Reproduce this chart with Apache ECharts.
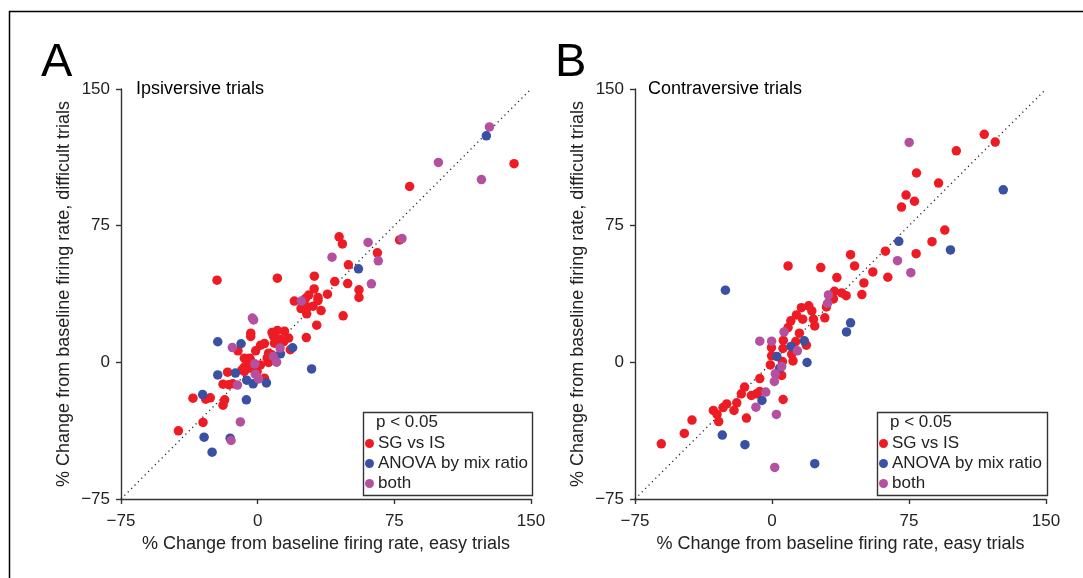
<!DOCTYPE html>
<html><head><meta charset="utf-8">
<script src="https://cdn.jsdelivr.net/npm/echarts@6/dist/echarts.min.js"></script>
<style>html,body{margin:0;padding:0;background:#fff}#c{width:1083px;height:578px}</style>
</head><body><div id="c"></div>
<script>
// ---- data ----
const seriesNames = ["SG vs IS", "ANOVA by mix ratio", "both"];
const axisTicks = [-75, 0, 75, 150];
const panelTitles = ["Ipsiversive trials", "Contraversive trials"];
const panelLetters = ["A", "B"];
const xAxisName = "% Change from baseline firing rate, easy trials";
const yAxisName = "% Change from baseline firing rate, difficult trials";
const legendHeader = "p < 0.05";

const ipsiSG = [[140.7,109],[83.4,96.5],[44.7,68.9],[46.5,65.0],[77.9,67.2],[65.7,60.1],[49.8,53.5],[-22.3,45.1],[10.8,46.2],[31.1,47.3],[42.3,44.3],[49.4,43.2],[55.6,39.8],[55.6,35.6],[31.0,40.3],[28.0,36.9],[38.3,37.4],[33.1,35.6],[33.1,33.9],[20.1,33.6],[26.2,35.0],[23.8,29.5],[27.4,30.3],[30.4,30.8],[34.8,28.4],[26.9,26.6],[46.9,25.5],[32.4,20.4],[-3.8,16.0],[-3.8,14.2],[7.9,16.4],[10.8,17.5],[14.7,17.1],[8.6,14.5],[12.5,12.7],[17.0,13.3],[26.7,13.6],[-10.8,6.3],[1.6,9.4],[3.7,10.3],[-1.1,6.3],[9.2,10.5],[17.9,6.9],[-7.3,2.3],[-4.4,2.3],[5.2,2.3],[14.3,11.4],[7.8,4.1],[6.0,5.0],[6.0,-0.1],[1.5,-1.4],[-6.2,1.4],[-4.0,1.4],[-7.3,-2.6],[-4.0,-3.2],[-7.3,-5.0],[-0.3,-5.0],[3.7,-8.7],[-16.5,-5.4],[-19.0,-12.0],[-15.9,-12.3],[-13.7,-11.8],[-35.5,-19.7],[-28.5,-20.2],[-26.0,-19.5],[-18.1,-20.6],[-19.0,-23.5],[-30.0,-33.0],[-43.5,-37.6],[-8.6,-4.1]];
const ipsiANOVA = [[125.5,124.3],[55.3,51.3],[-21.9,11.3],[-9.1,10.2],[19.2,8.0],[12.5,4.7],[29.6,-3.6],[-21.9,-6.9],[-12.2,-5.9],[-6.0,-9.8],[-2.5,-11.8],[4.8,-11.3],[-30.2,-17.7],[-6.2,-20.6],[-29.4,-41.1],[-15.1,-41.6],[-25.0,-49.3]];
const ipsiBoth = [[127.2,129.2],[99.2,109.7],[122.8,100.3],[60.6,65.8],[79.2,67.9],[66.2,55.7],[40.8,57.7],[62.4,43.1],[24.0,33.6],[-2.9,24.3],[-2.2,23.3],[-13.9,8.1],[12.3,7.8],[8.6,3.2],[10.4,0.1],[-1.6,-0.8],[-1.3,-6.5],[0.5,-9.1],[-11.1,-12.5],[-9.5,-32.7],[-14.6,-42.9]];

const contraSG = [[116.2,125.1],[122.2,120.9],[100.9,116.1],[79.1,103.9],[91.2,98.4],[73.4,91.8],[78.0,88.4],[70.9,85.2],[94.6,72.6],[87.6,66.2],[62.1,61.0],[78.9,59.6],[63.4,46.7],[43.0,59.1],[45.2,52.9],[55.2,49.6],[50.3,43.6],[49.2,37.2],[8.8,52.9],[26.7,52.0],[35.5,46.5],[34.2,39.0],[38.2,38.1],[40.6,36.6],[33.6,34.8],[29.8,30.4],[16.1,30.0],[20.1,31.0],[21.8,28.2],[13.4,26.0],[10.3,22.8],[16.8,23.7],[22.7,23.7],[28.9,24.4],[23.4,20.0],[8.8,19.1],[15.0,16.0],[-0.3,8.1],[6.2,12.0],[13.0,11.4],[18.8,9.4],[6.0,7.6],[10.8,4.5],[-0.2,3.6],[11.5,0.8],[5.7,0.4],[-0.9,-1.4],[5.3,-7.2],[-6.7,-8.9],[-15.0,-13.6],[-16.8,-17.3],[-11.3,-18.2],[-8.5,-17.3],[-6.7,-16.0],[6.1,-20.4],[-19.3,-22.2],[-24.8,-22.8],[-26.8,-24.8],[-20.8,-26.4],[-32.1,-26.4],[-30.1,-28.6],[-29.2,-32.5],[-14.0,-30.6],[-43.8,-31.7],[-48.0,-39.0],[-60.6,-44.7]];
const contraANOVA = [[126.6,94.7],[97.7,61.7],[69.4,66.4],[-25.5,39.6],[43.0,21.7],[40.8,16.7],[17.7,11.8],[10.4,8.7],[2.7,3.2],[19.2,-0.1],[4.2,-3.2],[-5.5,-20.9],[-27.2,-39.9],[-14.8,-45.2],[23.4,-55.6]];
const contraBoth = [[75.1,120.7],[68.7,55.8],[76.0,49.2],[30.9,37.0],[30.4,32.4],[6.6,16.7],[-6.7,11.6],[-0.2,11.6],[13.9,6.3],[5.3,-2.3],[1.8,-6.3],[1.3,-10.5],[-3.4,-16.3],[-8.8,-24.6],[2.4,-28.6],[1.5,-57.7]];
const identityLine = [[axisTicks[0], axisTicks[0]], [axisTicks[3], axisTicks[3]]];

// ---- chart ----
const colors = ["#ED1C24", "#3A50A2", "#B4509F"];
const FONT = "Liberation Sans, Arial, Helvetica, sans-serif";
const grids = [
  {left: 121, top: 89, width: 410, height: 410},
  {left: 635, top: 89, width: 411, height: 410}
];
const fmt = v => String(v).replace('-', '\u2212');
function axisBase(i, isX) {
  return {
    type: 'value', gridIndex: i, min: axisTicks[0], max: axisTicks[3], interval: 75,
    name: isX ? xAxisName : yAxisName,
    nameLocation: 'middle', nameGap: isX ? 34 : 48,
    nameTextStyle: {fontFamily: FONT, fontSize: 18, color: '#222'},
    axisLine: {show: true, onZero: false, lineStyle: {color: '#333', width: 1.4}},
    axisTick: {show: true, inside: false, length: 5, lineStyle: {color: '#333', width: 1.4}},
    axisLabel: {fontFamily: FONT, fontSize: 17, color: '#222', margin: isX ? 14 : 11, formatter: fmt},
    splitLine: {show: false}
  };
}
const panelData = [[ipsiSG, ipsiANOVA, ipsiBoth], [contraSG, contraANOVA, contraBoth]];
const series = [];
for (let p = 0; p < 2; p++) {
  series.push({type: 'line', xAxisIndex: p, yAxisIndex: p, data: identityLine, symbol: 'none', silent: true,
    lineStyle: {type: [1.2, 3.6], color: '#222', width: 1.3}, z: 1});
  for (let s = 0; s < 3; s++) {
    series.push({type: 'scatter', name: seriesNames[s], xAxisIndex: p, yAxisIndex: p,
      data: panelData[p][s], symbolSize: 9.5, itemStyle: {color: colors[s], opacity: 1}, z: 2 + s});
  }
}
const legendBoxes = [{x: 363, y: 412, w: 169, h: 83}, {x: 877, y: 412, w: 170, h: 83}];
const legends = legendBoxes.map(b => ({
  data: seriesNames, orient: 'vertical', left: b.x + 2, top: b.y + 23, padding: 0,
  itemWidth: 9, itemHeight: 9, itemGap: 3, icon: 'circle',
  textStyle: {fontFamily: FONT, fontSize: 17, color: '#222', lineHeight: 17, padding: [0, 0, 0, -1]},
  selectedMode: false
}));
const graphic = [
  {type: 'polyline', shape: {points: [[9.5, 578], [9.5, 11.5], [1083, 11.5]]}, style: {stroke: '#000', lineWidth: 1.5, fill: null}}
];
legendBoxes.forEach((b, i) => {
  graphic.push({type: 'rect', shape: {x: b.x + 0.5, y: b.y + 0.5, width: b.w, height: b.h}, style: {fill: 'none', stroke: '#333', lineWidth: 1.4}});
  graphic.push({type: 'text', left: b.x + 13, top: b.y + 2, style: {text: legendHeader, font: '17px ' + FONT, fill: '#222'}});
});
[[41, 'A', 136, 'Ipsiversive trials'], [555, 'B', 648, 'Contraversive trials']].forEach((d, i) => {
  graphic.push({type: 'text', left: d[0], top: 40, style: {text: panelLetters[i], font: '47px ' + FONT, fill: '#000'}});
  graphic.push({type: 'text', left: d[2], top: 80, style: {text: panelTitles[i], font: '18px ' + FONT, fill: '#000'}});
});
const chart = echarts.init(document.getElementById('c'), null, {renderer: 'canvas'});
chart.setOption({
  animation: false,
  backgroundColor: '#fff',
  grid: grids,
  xAxis: [axisBase(0, true), axisBase(1, true)],
  yAxis: [axisBase(0, false), axisBase(1, false)],
  legend: legends,
  series: series,
  graphic: graphic
});
</script></body></html>
